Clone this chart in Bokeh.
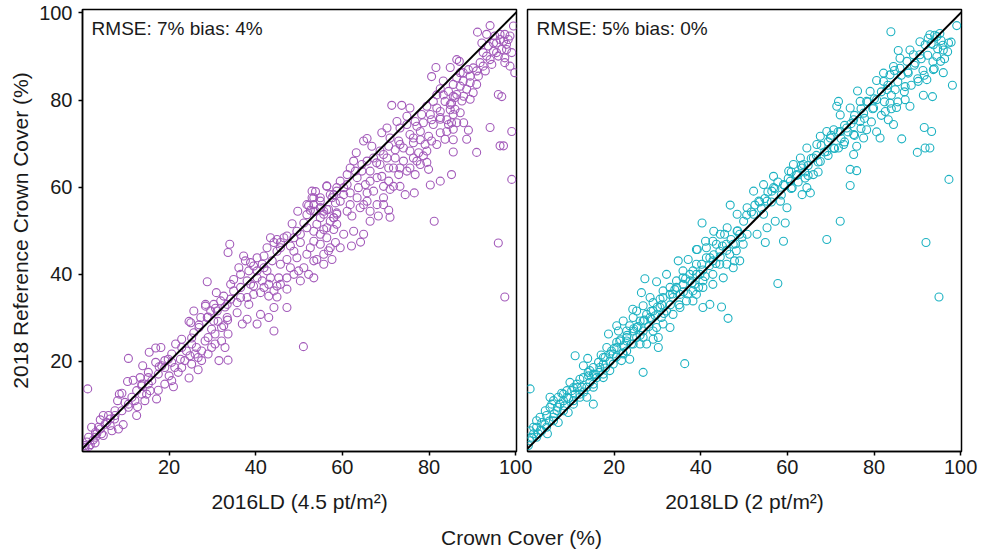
from bokeh.plotting import figure
from bokeh.layouts import row, column
from bokeh.models import Range1d, FixedTicker, Slope, Label
from bokeh.embed import file_html
from bokeh.resources import INLINE

FONT = "Liberation Sans"
PURPLE = "#A35BBA"
TEAL = "#1DB2C2"

# Crown cover (%) per plot: (lidar estimate, 2018 reference)
ld2016_pairs = [
    (28.4, 33.1), (30.7, 32.2), (32.9, 32.5), (29.0, 30.2), (24.6, 29.2), (26.9, 28.4), (31.3, 29.2),
    (29.8, 27.4), (33.5, 29.5), (33.6, 26.3), (25.7, 26.6), (25.2, 25.4), (22.9, 25.1), (21.5, 24.0),
    (18.1, 23.2), (16.9, 23.1), (15.4, 22.1), (16.9, 19.8), (17.7, 18.8), (13.9, 19.0), (10.6, 20.7),
    (22.6, 20.5), (24.8, 21.3), (26.7, 20.9), (29.0, 21.7), (31.5, 20.2), (33.6, 20.3), (26.7, 18.1),
    (24.6, 16.2), (22.1, 17.5), (20.0, 16.7), (21.0, 14.2), (19.0, 14.8), (17.5, 13.4), (17.1, 11.4),
    (14.8, 12.5), (12.5, 13.3), (11.7, 15.7), (13.3, 16.3), (10.4, 15.4), (9.1, 12.7), (8.5, 12.5),
    (8.1, 11.0), (10.6, 9.5), (12.5, 7.6), (12.7, 9.6), (14.4, 11.0), (15.6, 13.3), (9.8, 10.6),
    (6.0, 7.6), (4.8, 7.6), (4.1, 6.6), (7.4, 6.8), (9.4, 5.5), (8.3, 4.5), (6.4, 5.3), (4.8, 3.0),
    (3.3, 3.4), (2.1, 4.9), (1.4, 2.6), (1.0, 1.5), (0.5, 0.7), (1.8, 0.9), (2.5, 2.0), (1.2, 13.7),
    (15.2, 14.8), (20.6, 15.6), (22.9, 18.6), (25.2, 19.4), (27.5, 22.4), (29.8, 23.2), (32.1, 24.7),
    (28.3, 24.7), (26.3, 23.2), (24.0, 22.4), (19.8, 20.5), (18.3, 19.0), (15.2, 17.5), (13.7, 14.4),
    (11.4, 11.8), (7.5, 8.7), (5.6, 6.0), (3.7, 4.9), (0.6, 0.3), (1.5, 0.5), (2.9, 1.3), (3.0, 2.6),
    (20.6, 19.8), (19.0, 18.6), (21.3, 18.6), (23.6, 20.2), (26.0, 21.7), (27.5, 20.2), (29.0, 25.5),
    (30.6, 26.3), (32.1, 27.8), (30.6, 24.0), (32.9, 23.2), (25.2, 24.0), (22.9, 23.2), (17.5, 17.1),
    (16.0, 15.6), (13.7, 12.5), (12.1, 11.0), (10.6, 10.2), (9.1, 8.7), (7.5, 7.6), (6.4, 6.8),
    (5.2, 5.6), (4.1, 4.5), (3.0, 3.7), (4.4, 3.4), (6.8, 4.1), (13.7, 14.8), (15.2, 16.3),
    (20.6, 21.7), (19.0, 20.2),
    (56.4, 60.3), (53.8, 59.0), (53.0, 57.6), (52.2, 55.8), (52.6, 54.7), (49.7, 54.5), (48.4, 51.6),
    (51.1, 51.8), (54.9, 53.0), (56.8, 54.9), (58.4, 56.4), (58.0, 53.0), (58.7, 51.5), (55.7, 50.3),
    (53.4, 49.9), (50.3, 49.2), (47.2, 48.8), (44.9, 48.0), (44.2, 47.3), (45.7, 46.1), (48.0, 46.5),
    (50.3, 47.3), (52.6, 46.1), (54.9, 46.9), (56.8, 45.4), (58.4, 47.3), (57.6, 43.4), (55.7, 42.3),
    (54.1, 43.4), (51.8, 44.6), (49.5, 43.8), (47.2, 43.4), (44.9, 45.3), (43.8, 43.1), (41.9, 44.2),
    (41.5, 42.3), (40.3, 40.8), (42.6, 40.8), (45.3, 39.2), (47.2, 39.2), (49.9, 40.8), (50.3, 38.5),
    (52.2, 40.0), (53.4, 39.2), (47.2, 36.6), (44.9, 37.3), (43.0, 37.7), (41.5, 38.5), (39.5, 37.3),
    (38.4, 40.8), (37.6, 43.1), (37.2, 44.2), (39.5, 41.9), (34.0, 46.9), (33.6, 45.0), (36.1, 41.5),
    (34.9, 38.8), (36.5, 40.0), (38.8, 37.7), (41.1, 35.8), (43.0, 35.0), (44.9, 34.8), (47.2, 32.4),
    (44.2, 32.4), (43.0, 30.1), (41.1, 30.8), (38.4, 33.1), (36.5, 34.7), (34.2, 34.3), (32.6, 35.0),
    (30.9, 35.8), (28.8, 38.3), (34.2, 37.7), (31.1, 31.6), (28.8, 30.1), (30.3, 29.3), (33.4, 30.1),
    (35.7, 31.2), (38.0, 29.7), (40.3, 28.6), (36.9, 28.6), (32.6, 28.2), (28.4, 32.7), (25.7, 31.6),
    (25.0, 28.9), (26.9, 27.8), (44.2, 27.0), (43.4, 48.4), (46.5, 48.4), (48.8, 45.3), (49.5, 49.9),
    (53.4, 47.6), (56.4, 48.4), (58.7, 54.1), (54.1, 51.5), (54.9, 55.3), (51.0, 23.4),
    (45.7, 42.3), (48.0, 41.5), (43.4, 39.2), (40.3, 39.2), (38.0, 38.5), (36.5, 37.0), (34.9, 36.2),
    (33.4, 33.1), (31.9, 33.9), (30.3, 33.1), (29.6, 31.6), (27.3, 30.1), (35.7, 33.5), (38.0, 34.7),
    (39.5, 35.4), (41.9, 37.0), (44.2, 36.2), (45.7, 37.7), (48.8, 40.0), (51.1, 41.5), (53.4, 43.1),
    (55.7, 44.6), (57.2, 46.1), (54.9, 49.2), (56.4, 50.7), (58.0, 50.3), (51.8, 50.7), (48.8, 48.4),
    (45.7, 47.3), (42.6, 46.1), (40.3, 43.8), (38.8, 42.7), (41.9, 41.5), (51.8, 53.7), (53.8, 54.5),
    (55.7, 54.5), (57.2, 52.2), (53.4, 56.0), (54.9, 57.6), (57.6, 57.6), (58.7, 59.1),
    (81.6, 87.5), (84.9, 87.5), (80.6, 85.4), (83.3, 84.4), (86.4, 85.1), (82.6, 82.6), (84.5, 82.0),
    (86.0, 80.6), (83.7, 79.7), (81.0, 79.7), (79.5, 78.6), (81.8, 78.2), (84.9, 77.8), (85.6, 76.7),
    (82.6, 76.0), (80.3, 76.7), (78.3, 76.7), (76.8, 75.1), (78.7, 74.8), (81.0, 74.4), (84.5, 74.4),
    (86.4, 74.8), (84.1, 72.8), (85.6, 70.9), (82.6, 72.5), (79.9, 71.7), (78.0, 72.8), (75.6, 72.1),
    (76.4, 70.2), (79.1, 69.8), (79.5, 68.3), (85.6, 68.1), (77.6, 67.9), (75.6, 68.3), (74.1, 69.0),
    (73.0, 70.6), (71.0, 71.3), (70.3, 73.6), (69.1, 72.5), (71.4, 78.8), (73.7, 78.8), (75.6, 78.2),
    (74.9, 76.3), (72.6, 75.1), (73.3, 73.6), (70.7, 69.4), (69.5, 67.5), (72.2, 66.7), (74.1, 66.0),
    (76.4, 66.7), (78.0, 65.2), (79.9, 64.1), (76.8, 62.9), (74.9, 63.7), (73.0, 62.9), (70.7, 64.4),
    (68.7, 65.2), (67.2, 66.7), (64.9, 70.6), (65.7, 71.2), (66.8, 69.4), (68.7, 68.3), (63.2, 67.9),
    (62.6, 66.0), (64.5, 65.2), (66.4, 63.7), (68.0, 62.2), (70.7, 61.4), (73.3, 60.2), (74.5, 58.3),
    (76.6, 58.7), (71.0, 59.5), (69.5, 57.6), (67.2, 59.1), (65.3, 60.6), (63.4, 62.2), (61.8, 64.4),
    (61.1, 62.9), (59.5, 61.4), (60.3, 59.9), (61.8, 58.7), (63.4, 57.6), (65.7, 56.8), (68.0, 56.0),
    (66.4, 54.5), (64.1, 55.3), (61.8, 56.0), (59.5, 56.8), (58.0, 58.3), (56.4, 60.2), (54.9, 55.3),
    (53.4, 57.6), (53.0, 59.1), (51.8, 56.0), (56.4, 54.9), (58.7, 53.8), (62.2, 53.4), (70.7, 54.7),
    (71.0, 53.1), (68.3, 53.4), (58.0, 53.0), (82.6, 61.4), (85.2, 62.9), (80.3, 60.5),
    (81.8, 81.2), (83.3, 81.2), (85.2, 79.3), (82.6, 77.4), (80.6, 75.5), (84.1, 75.5), (77.2, 74.0),
    (74.9, 74.4), (76.4, 71.3), (78.0, 70.9), (80.6, 70.6), (81.8, 69.8), (73.3, 69.8), (72.2, 68.6),
    (70.3, 66.7), (67.9, 65.6), (65.7, 66.0), (64.5, 63.7), (63.0, 63.7), (66.4, 61.4), (69.1, 62.5),
    (71.8, 64.4), (73.3, 64.4), (75.6, 64.4), (77.2, 66.0), (71.8, 60.2), (69.5, 60.2), (65.7, 58.7),
    (63.7, 59.9), (61.1, 60.6), (58.7, 59.9), (57.2, 58.3), (60.3, 58.3), (64.9, 56.0), (69.5, 56.0),
    (61.1, 54.5), (54.9, 56.8), (55.7, 53.8), (53.4, 54.5),
    (94.1, 97.1), (91.2, 95.6), (98.7, 94.7), (97.5, 95.1), (96.4, 93.9), (94.9, 93.1), (97.9, 92.8),
    (96.8, 91.6), (95.6, 90.9), (93.7, 92.4), (92.5, 90.9), (94.1, 89.3), (97.5, 89.7), (98.7, 87.8),
    (99.5, 97.0), (99.8, 86.3), (91.8, 88.6), (90.2, 87.4), (93.0, 86.7), (91.4, 85.5), (89.5, 85.5),
    (87.9, 84.4), (91.0, 83.6), (87.2, 86.3), (86.4, 89.3), (87.0, 88.9), (85.6, 83.6), (88.7, 82.5),
    (86.4, 81.3), (89.5, 80.2), (96.0, 81.3), (96.8, 80.8), (87.6, 79.8), (84.9, 79.0), (88.0, 74.8),
    (85.6, 73.3), (89.1, 73.1), (88.7, 71.0), (83.7, 71.0), (91.0, 68.0), (94.1, 73.7), (99.1, 72.8),
    (96.4, 69.5), (97.2, 69.5), (78.7, 67.2), (79.5, 65.7),
    (95.6, 93.1), (97.2, 93.5), (98.3, 93.9), (97.9, 91.6), (96.0, 90.1), (94.9, 91.2), (93.3, 90.1),
    (94.5, 88.2), (92.5, 87.8), (91.0, 86.7), (89.1, 87.0), (87.9, 86.3), (89.5, 84.0), (87.2, 83.2),
    (90.2, 81.7), (88.0, 80.9), (85.6, 80.9), (97.5, 88.6), (99.1, 90.9), (96.4, 95.1), (95.2, 94.7),
    (93.3, 95.1), (92.2, 93.1), (86.0, 77.9), (82.6, 75.6), (87.2, 77.1), (85.2, 74.8),
    (81.2, 52.2), (99.1, 61.8), (64.2, 47.4), (62.1, 46.5), (60.3, 49.2), (62.6, 49.9), (64.9, 49.2),
    (66.4, 52.2), (59.5, 46.1), (96.0, 47.2), (97.5, 34.8),
]

ld2018_pairs = [
    (0.6, 13.7), (15.2, 10.2), (11.0, 21.3), (13.9, 20.7), (12.9, 19.0), (14.1, 16.7), (12.1, 15.9),
    (9.8, 15.2), (10.2, 13.3), (7.9, 12.7), (8.3, 11.0), (5.6, 10.2), (6.8, 8.7), (4.4, 7.6), (3.3, 6.0),
    (2.1, 4.9), (1.4, 3.4), (0.6, 1.8), (0.2, 0.7), (4.6, 3.4), (7.1, 6.0), (9.4, 8.3), (12.1, 11.8),
    (10.6, 10.2), (13.7, 14.1), (16.0, 16.3), (15.2, 18.6), (16.4, 19.8), (17.9, 20.9), (18.3, 23.2),
    (19.4, 22.4), (20.6, 24.4), (18.7, 26.3), (20.6, 28.2), (22.1, 29.3), (21.0, 27.0), (22.9, 27.0),
    (23.6, 28.2), (24.4, 30.1), (25.2, 31.6), (26.7, 32.8), (26.0, 29.3), (27.5, 30.8), (28.6, 29.7),
    (29.8, 27.8), (30.2, 25.5), (29.0, 25.1), (30.2, 23.2), (26.7, 17.5), (23.6, 20.5), (22.1, 23.6),
    (22.9, 24.7), (24.3, 32.0), (26.3, 35.8), (27.1, 39.0), (29.8, 38.3), (28.3, 34.7), (30.6, 34.3),
    (29.0, 33.5), (31.3, 36.2), (32.9, 37.0), (32.1, 40.0), (34.4, 38.5), (33.6, 34.7), (32.1, 31.6),
    (30.9, 30.1), (32.9, 27.8), (35.2, 35.4), (35.9, 37.7), (37.5, 38.5), (38.2, 36.2), (38.2, 33.9),
    (40.5, 32.4), (42.1, 33.1), (44.8, 32.5), (46.3, 29.9), (36.3, 19.5), (34.8, 43.1), (37.1, 43.4),
    (35.9, 40.8), (38.2, 40.8), (39.0, 45.7), (40.2, 42.3), (41.3, 46.1), (42.8, 47.6), (42.1, 43.8),
    (44.4, 45.3), (45.5, 49.2), (47.5, 46.9), (47.8, 43.1), (49.8, 46.9), (49.0, 49.2), (46.0, 42.3),
    (42.8, 40.0), (40.5, 38.5), (38.6, 37.7), (17.5, 19.4), (19.0, 17.9), (17.5, 16.3), (19.8, 21.7),
    (21.7, 20.2), (22.9, 22.4), (25.2, 25.5), (26.7, 27.0), (27.5, 24.0), (26.0, 24.0), (9.1, 11.8),
    (6.0, 7.2), (5.2, 11.8), (2.5, 3.4), (7.5, 10.2), (13.7, 11.8), (15.2, 14.1), (12.5, 14.1),
    (14.4, 15.2), (3.0, 4.2), (4.0, 5.5), (5.0, 6.3), (6.2, 8.0), (7.0, 9.5), (8.5, 9.8), (9.5, 11.5),
    (11.0, 12.5), (11.5, 14.0), (13.0, 13.0), (14.0, 17.5), (15.5, 17.0), (16.5, 17.5), (17.0, 21.5),
    (18.0, 18.5), (19.0, 20.0), (20.0, 23.0), (20.5, 21.0), (21.5, 25.0), (22.0, 22.0), (23.0, 26.0),
    (24.0, 24.0), (24.5, 27.5), (25.5, 28.0), (26.0, 26.0), (27.0, 29.5), (28.0, 28.0), (28.5, 31.5),
    (29.5, 30.5), (30.0, 32.5), (31.0, 33.0), (31.5, 31.0), (33.0, 33.0), (33.5, 35.5), (34.0, 36.5),
    (35.0, 33.0), (36.0, 36.0), (36.5, 39.0), (37.0, 35.5), (38.0, 38.0), (39.0, 40.0), (39.5, 37.0),
    (40.5, 41.0), (41.0, 39.5), (42.0, 42.0), (43.0, 44.5), (43.5, 42.5), (44.5, 44.0), (45.0, 46.5),
    (46.0, 45.5), (47.0, 48.0), (48.0, 47.0), (48.5, 50.0), (49.5, 48.5),
    (42.8, 43.1), (44.4, 42.3), (46.7, 44.6), (48.2, 45.4), (45.9, 46.9), (43.6, 46.9), (41.3, 43.8),
    (39.0, 42.3), (39.8, 40.0), (37.5, 40.0), (35.9, 39.2), (34.4, 37.0), (32.9, 35.4), (31.3, 34.7),
    (30.6, 32.4), (29.0, 31.6), (28.3, 30.1), (26.7, 29.3), (25.2, 27.8), (24.4, 27.0), (22.9, 25.5),
    (21.3, 24.7), (20.6, 23.2), (19.0, 21.7), (17.5, 20.9), (16.7, 18.6), (15.2, 17.1), (14.4, 17.9),
    (12.9, 16.3), (11.4, 14.8), (10.6, 14.0), (9.1, 13.3), (8.3, 12.5), (7.1, 11.8), (6.0, 11.0),
    (5.2, 9.5), (4.1, 8.7), (2.9, 7.2), (2.1, 6.4), (1.4, 4.9), (0.6, 4.1), (1.0, 2.6), (2.1, 2.6),
    (3.3, 4.1), (4.4, 4.9), (6.0, 6.4), (8.3, 8.7), (10.6, 11.0), (12.1, 12.5), (15.2, 14.8),
    (17.5, 17.1), (19.8, 19.4), (22.1, 21.7), (24.4, 24.0), (26.7, 25.5), (29.0, 27.0), (31.3, 28.6),
    (33.6, 30.8), (35.2, 32.4), (36.7, 33.9), (39.0, 35.4), (40.5, 37.0), (42.8, 37.7), (45.2, 39.2),
    (47.5, 41.5), (49.0, 43.1),
    (83.9, 95.7), (85.6, 91.4), (99.1, 97.1), (97.2, 93.1), (96.0, 91.5), (94.5, 94.6), (92.9, 95.0),
    (93.7, 92.7), (91.8, 92.7), (90.6, 90.4), (89.1, 90.4), (89.5, 88.5), (87.6, 88.9), (86.0, 87.3),
    (87.9, 86.2), (90.2, 84.3), (92.2, 84.7), (93.7, 87.0), (96.0, 86.3), (98.1, 83.4), (91.4, 81.1),
    (93.5, 80.8), (87.2, 83.1), (87.2, 80.1), (84.9, 82.4), (83.7, 85.8), (82.2, 84.3), (80.6, 84.5),
    (83.0, 82.4), (85.2, 78.3), (88.3, 78.6), (83.3, 75.5), (84.5, 74.4), (86.4, 71.1), (91.6, 73.7),
    (93.3, 72.8), (91.8, 69.0), (92.9, 69.0), (90.0, 68.0), (81.4, 71.3), (80.6, 72.7), (78.3, 73.2),
    (77.6, 71.3), (76.0, 69.4), (74.5, 64.1), (76.0, 63.8), (74.5, 60.4), (72.2, 52.2), (69.1, 48.0),
    (92.0, 47.3), (76.2, 82.1), (78.3, 79.7), (79.9, 78.2), (77.6, 77.0), (75.3, 75.5), (73.7, 73.6),
    (76.8, 75.1), (75.3, 72.1), (72.2, 76.6), (71.4, 78.6), (70.7, 73.2), (69.9, 71.3), (73.0, 69.8),
    (71.8, 69.0), (69.1, 68.2), (67.6, 71.7), (66.8, 69.8), (64.5, 69.0), (66.0, 66.7), (63.7, 65.2),
    (63.0, 66.7), (61.4, 65.2), (60.3, 63.7), (62.2, 62.9), (64.1, 62.1), (65.3, 58.7), (63.4, 58.3),
    (61.1, 59.9), (59.1, 60.6), (56.8, 62.5), (54.5, 60.6), (52.2, 59.1), (56.4, 59.1), (58.4, 56.8),
    (59.9, 55.3), (55.3, 56.8), (53.4, 56.8), (50.7, 55.3), (48.4, 53.8), (49.9, 52.2), (52.2, 53.8),
    (54.5, 53.8), (57.2, 52.2), (59.5, 51.8), (55.3, 50.7), (53.0, 49.2), (50.7, 49.2), (48.4, 49.9),
    (46.8, 55.9), (46.1, 50.7), (44.5, 49.2), (43.0, 49.9), (40.3, 51.8), (41.1, 47.6), (39.2, 45.7),
    (54.9, 47.3), (59.1, 47.6), (56.8, 59.9), (60.7, 61.4), (63.4, 64.4), (67.6, 65.9), (69.1, 72.8),
    (72.2, 72.8), (74.5, 78.2), (76.8, 79.7), (79.1, 82.0), (82.2, 86.2), (84.5, 87.7), (86.0, 89.6),
    (88.3, 91.5), (90.6, 93.4), (92.5, 94.2), (95.2, 95.3), (75.3, 67.5), (70.7, 69.0), (66.0, 62.9),
    (64.5, 59.9), (71.8, 79.7), (80.6, 80.1), (82.6, 77.4), (83.7, 79.3), (94.5, 90.0), (95.4, 88.9),
    (94.0, 94.9), (95.5, 93.7), (93.2, 93.0), (94.7, 91.8), (92.4, 90.3), (93.6, 88.8), (90.9, 89.5),
    (89.3, 88.0), (91.3, 86.8), (87.8, 86.5), (86.3, 85.7), (84.7, 86.8), (85.5, 84.2), (83.2, 83.4),
    (84.0, 81.1), (81.7, 81.9), (80.1, 80.3), (82.4, 79.6), (78.6, 79.6), (79.7, 78.0), (77.0, 78.0),
    (77.8, 75.8), (75.5, 76.5), (74.7, 74.6), (73.2, 74.2), (74.0, 72.7), (71.7, 72.7), (72.4, 71.2),
    (70.1, 71.9), (69.4, 70.4), (67.8, 69.6), (68.6, 68.1), (66.7, 67.3), (65.5, 66.6), (67.1, 65.8),
    (64.8, 65.0), (63.2, 65.0), (64.0, 63.5), (62.1, 62.7), (60.9, 63.5), (60.2, 62.0), (59.4, 60.4),
    (57.8, 61.2), (57.1, 59.7), (55.5, 58.9), (54.8, 57.4), (53.6, 56.6), (52.5, 55.9), (51.7, 54.3),
    (50.6, 53.6), (54.0, 55.1), (56.3, 56.6), (58.6, 58.2), (60.9, 59.7), (62.5, 61.2), (64.8, 62.7),
    (67.1, 63.5), (69.4, 67.3), (70.9, 68.9), (73.2, 70.4), (75.5, 71.9), (77.0, 73.5), (79.4, 75.0),
    (81.7, 76.5), (84.0, 78.0), (85.5, 79.6), (87.0, 81.9), (88.6, 83.4), (90.1, 84.9), (91.6, 85.7),
    (93.9, 87.2), (96.3, 89.5), (97.0, 91.1), (95.9, 92.6), (97.8, 93.3),
    (57.8, 37.9), (95.0, 34.8), (97.3, 61.8),
]

stats_2016 = "RMSE: 7% bias: 4%"
stats_2018 = "RMSE: 5% bias: 0%"
title_2016 = "2016LD (4.5 pt/m\u00b2)"
title_2018 = "2018LD (2 pt/m\u00b2)"
y_title = "2018 Reference Crown Cover (%)"
x_title = "Crown Cover (%)"
tick_values = [20, 40, 60, 80, 100]


def make_panel(pairs, color, stats, xlabel, width, border_left, border_right, show_y):
    xs = [p[0] for p in pairs]
    ys = [p[1] for p in pairs]
    p = figure(width=width, height=524,
               x_range=Range1d(0, 100.2), y_range=Range1d(-0.67, 100.8),
               toolbar_location=None, output_backend="svg",
               min_border_left=border_left, min_border_right=border_right,
               min_border_top=9, min_border_bottom=73)
    p.scatter(xs, ys, marker="circle", size=8, fill_color=None,
              line_color=color, line_width=1.1)
    p.add_layout(Slope(gradient=1, y_intercept=0, line_color="black", line_width=2))
    p.add_layout(Label(x=2.1, y=96.5, text=stats, text_font=FONT,
                       text_font_size="19px", text_color="#1a1a1a",
                       text_baseline="alphabetic"))
    p.grid.visible = False
    p.outline_line_color = "black"
    p.outline_line_width = 1.5
    p.outline_line_alpha = 1.0
    p.border_fill_alpha = 0

    xa = p.xaxis[0]
    xa.ticker = FixedTicker(ticks=tick_values)
    xa.minor_tick_line_color = None
    xa.major_tick_in = 0
    xa.major_tick_out = 4
    xa.major_tick_line_width = 1.5
    xa.axis_line_width = 1.5
    xa.major_label_standoff = 4
    xa.major_label_text_font = FONT
    xa.major_label_text_font_size = "20px"
    xa.major_label_text_color = "#1a1a1a"
    xa.axis_label = xlabel
    xa.axis_label_text_font = FONT
    xa.axis_label_text_font_size = "21px"
    xa.axis_label_text_font_style = "normal"
    xa.axis_label_text_color = "#1a1a1a"
    xa.axis_label_standoff = 13

    ya = p.yaxis[0]
    if show_y:
        ya.ticker = FixedTicker(ticks=tick_values)
        ya.minor_tick_line_color = None
        ya.major_tick_in = 0
        ya.major_tick_out = 4
        ya.major_tick_line_width = 1.5
        ya.axis_line_width = 1.5
        ya.major_label_standoff = 6
        ya.major_label_text_font = FONT
        ya.major_label_text_font_size = "20px"
        ya.major_label_text_color = "#1a1a1a"
        ya.axis_label = y_title
        ya.axis_label_text_font = FONT
        ya.axis_label_text_font_size = "21px"
        ya.axis_label_text_font_style = "normal"
        ya.axis_label_text_color = "#1a1a1a"
        ya.axis_label_standoff = 4
    else:
        ya.visible = False
    return p


p1 = make_panel(ld2016_pairs, PURPLE, stats_2016, title_2016, 535, 82, 19, True)
p2 = make_panel(ld2018_pairs, TEAL, stats_2018, title_2018, 461, 6, 21, False)
p2.margin = (0, 0, 0, -14)

# shared x title under both panels
p3 = figure(width=982, height=28, x_range=Range1d(0, 982), y_range=Range1d(0, 28),
            toolbar_location=None, output_backend="svg", min_border=0)
p3.axis.visible = False
p3.grid.visible = False
p3.outline_line_color = None
p3.add_layout(Label(x=521, y=15.5, text=x_title, text_font=FONT, text_font_size="21px",
                    text_color="#1a1a1a", text_align="center", text_baseline="middle"))

layout = column(row(p1, p2), p3)
open("out.html", "w").write(file_html(layout, INLINE))
